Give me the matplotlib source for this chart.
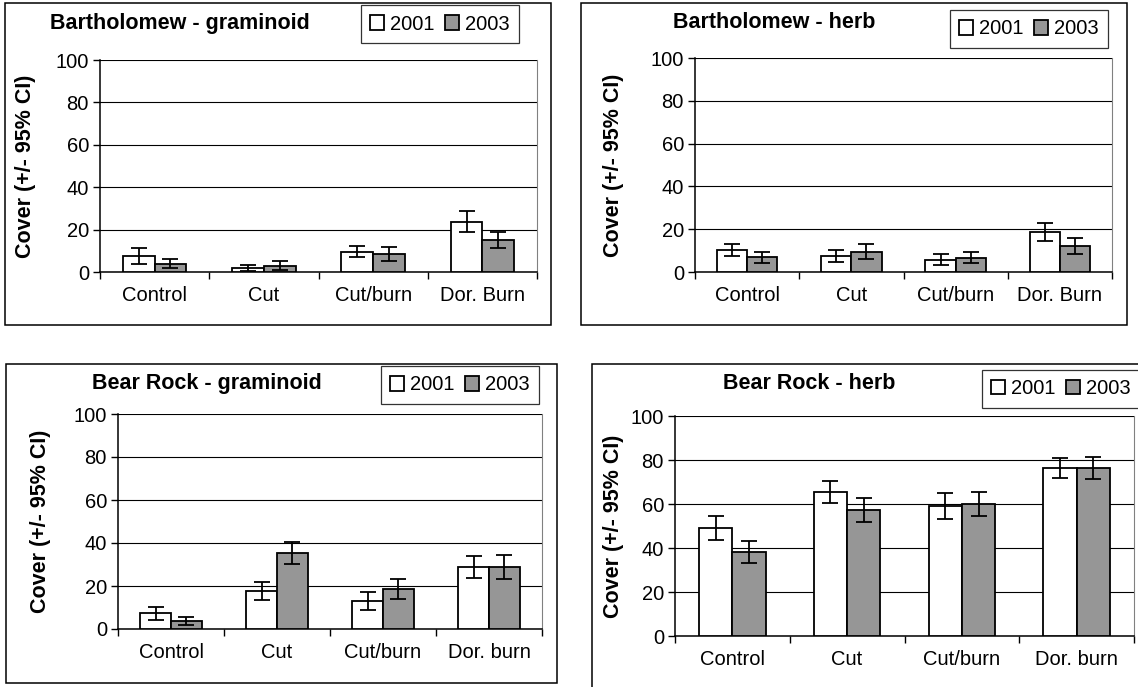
import numpy as np
import matplotlib
matplotlib.use("Agg")
import matplotlib.pyplot as plt
from matplotlib.patches import Rectangle

plt.rcParams['font.family'] = ['Liberation Sans', 'DejaVu Sans']

W, H = 1138, 687

# ---- data (cover %, +/- 95% CI) ----
cats_top = ['Control', 'Cut', 'Cut/burn', 'Dor. Burn']
cats_bottom = ['Control', 'Cut', 'Cut/burn', 'Dor. burn']
years = ['2001', '2003']

bart_gram_2001 = [7.5, 2.0, 9.6, 23.7]
bart_gram_2003 = [3.9, 3.0, 8.6, 15.2]
bart_gram_ci01 = [3.7, 1.4, 2.7, 4.9]
bart_gram_ci03 = [2.0, 2.0, 3.3, 3.9]

bart_herb_2001 = [10.4, 7.6, 5.8, 18.8]
bart_herb_2003 = [6.8, 9.5, 6.7, 12.3]
bart_herb_ci01 = [2.7, 2.7, 2.7, 4.1]
bart_herb_ci03 = [2.7, 3.6, 2.7, 3.7]

bear_gram_2001 = [7.4, 17.7, 13.1, 28.7]
bear_gram_2003 = [3.7, 35.3, 18.7, 28.7]
bear_gram_ci01 = [3.0, 4.2, 4.2, 5.1]
bear_gram_ci03 = [1.8, 5.2, 4.6, 5.5]

bear_herb_2001 = [49.0, 65.4, 59.2, 76.5]
bear_herb_2003 = [38.1, 57.2, 59.9, 76.5]
bear_herb_ci01 = [5.5, 5.0, 5.9, 4.6]
bear_herb_ci03 = [5.0, 5.5, 5.4, 5.0]

panels = [
    dict(title='Bartholomew - graminoid', cats=cats_top,
         v1=bart_gram_2001, v2=bart_gram_2003, e1=bart_gram_ci01, e2=bart_gram_ci03,
         frame=(5, 3, 551, 325), plot=(100, 60, 537, 272), tpos=(180, 23),
         leg=(440, 24), ylx=26),
    dict(title='Bartholomew - herb', cats=cats_top,
         v1=bart_herb_2001, v2=bart_herb_2003, e1=bart_herb_ci01, e2=bart_herb_ci03,
         frame=(581, 3, 1127, 325), plot=(695, 58, 1112, 272), tpos=(774, 23),
         leg=(1029, 29), ylx=614),
    dict(title='Bear Rock - graminoid', cats=cats_bottom,
         v1=bear_gram_2001, v2=bear_gram_2003, e1=bear_gram_ci01, e2=bear_gram_ci03,
         frame=(6, 364, 557, 683), plot=(118, 414, 542, 629), tpos=(207, 383),
         leg=(460, 385), ylx=41),
    dict(title='Bear Rock - herb', cats=cats_bottom,
         v1=bear_herb_2001, v2=bear_herb_2003, e1=bear_herb_ci01, e2=bear_herb_ci03,
         frame=(592, 364, 1160, 700), plot=(675, 416, 1134, 636), tpos=(809, 383),
         leg=(1061, 389), ylx=613),
]

fig = plt.figure(figsize=(W / 100, H / 100), dpi=100)
fig.patch.set_facecolor('white')


def fx(x):
    return x / W


def fy(y):
    return 1 - y / H


FS = 14.5   # tick / legend text
FSB = 15.5  # bold title / axis label
bw = 0.29

for p in panels:
    l, t, r, b = p['frame']
    fig.patches.append(Rectangle((fx(l), fy(b)), fx(r) - fx(l), fy(t) - fy(b),
                                 transform=fig.transFigure, fill=False,
                                 edgecolor='black', linewidth=1.1, zorder=0))
    l, t, r, b = p['plot']
    ax = fig.add_axes([fx(l), fy(b), fx(r) - fx(l), fy(t) - fy(b)])
    x = np.arange(len(p['cats'])) + 0.5
    ax.bar(x - bw / 2, p['v1'], bw, color='white', edgecolor='black',
           linewidth=1.3, zorder=3, label=years[0])
    ax.bar(x + bw / 2, p['v2'], bw, color='#969696', edgecolor='black',
           linewidth=1.3, zorder=3, label=years[1])
    ax.errorbar(x - bw / 2, p['v1'], yerr=p['e1'], fmt='none', ecolor='black',
                elinewidth=1.3, capsize=5.8, capthick=1.3, zorder=4)
    ax.errorbar(x + bw / 2, p['v2'], yerr=p['e2'], fmt='none', ecolor='black',
                elinewidth=1.3, capsize=5.8, capthick=1.3, zorder=4)

    ax.set_xlim(0, 4)
    ax.set_ylim(0, 100)
    ax.set_yticks(range(0, 101, 20))
    ax.yaxis.grid(True, color='black', linewidth=0.8, zorder=0)
    ax.set_axisbelow(True)
    ax.set_xticks(range(0, 5))
    ax.set_xticklabels([])
    ax.set_xticks(x, minor=True)
    ax.set_xticklabels(p['cats'], minor=True, fontsize=FS)
    ax.tick_params(axis='x', which='major', length=5, width=1, direction='out')
    ax.tick_params(axis='x', which='minor', length=0, pad=10)
    ax.tick_params(axis='y', length=5, width=1, labelsize=FS, pad=3)
    for s in ['left', 'bottom']:
        ax.spines[s].set_linewidth(1.1)
    ax.spines['top'].set_visible(False)
    ax.spines['right'].set_color('#808080')

    fig.text(fx(p['tpos'][0]), fy(p['tpos'][1]), p['title'], fontsize=FSB,
             fontweight='bold', ha='center', va='center')
    fig.text(fx(p['ylx']), fy((t + b) / 2), 'Cover (+/- 95% CI)', fontsize=FSB,
             fontweight='bold', rotation=90, ha='center', va='center')

    leg = ax.legend(loc='center', bbox_to_anchor=(fx(p['leg'][0]), fy(p['leg'][1])),
                    bbox_transform=fig.transFigure, ncol=2, fontsize=FS,
                    frameon=True, fancybox=False, edgecolor='black',
                    handlelength=0.7, handleheight=0.7, handletextpad=0.3,
                    columnspacing=0.5, borderpad=0.45, borderaxespad=0)
    leg.get_frame().set_linewidth(0.9)

fig.savefig('out.png', dpi=100)
